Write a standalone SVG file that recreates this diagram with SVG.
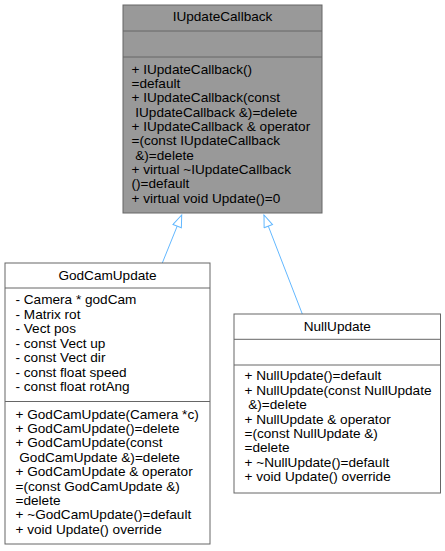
<svg xmlns="http://www.w3.org/2000/svg" width="445" height="551" viewBox="0 0 445 551">
<style>
text{font-family:"Liberation Sans",Arial,sans-serif;font-size:13.6px;fill:#000;white-space:pre}
.c{text-anchor:middle}
.box{stroke:#666666;stroke-width:1}
.sep{stroke:#666666;stroke-width:1;fill:none}
.edge{stroke:#63b8ff;stroke-width:1;fill:none}
</style>
<defs>
<marker id="tri" markerUnits="userSpaceOnUse" markerWidth="16" markerHeight="12" refX="13" refY="5" orient="auto">
<path d="M1,0.5 L13,5 L1,9.5 Z" fill="#ffffff" stroke="#63b8ff" stroke-width="1"/>
</marker>
</defs>
<rect width="445" height="551" fill="#ffffff"/>
<g id="connectors">
<path class="edge" d="M162.3,263 L181.7,215" marker-end="url(#tri)"/>
<path class="edge" d="M302.3,314 L264,215" marker-end="url(#tri)"/>
</g>
<g id="IUpdateCallback">
<rect class="box" x="123" y="5" width="199" height="208" fill="#999999"/>
<line class="sep" x1="123" y1="31" x2="322" y2="31"/>
<line class="sep" x1="123" y1="57" x2="322" y2="57"/>
<text class="c" x="222.5" y="21">IUpdateCallback</text>
<text x="131.5" y="73.5">+ IUpdateCallback()</text>
<text x="131.5" y="87.8">=default</text>
<text x="131.5" y="102.2">+ IUpdateCallback(const</text>
<text x="131.5" y="116.5" xml:space="preserve"> IUpdateCallback &amp;)=delete</text>
<text x="131.5" y="130.9">+ IUpdateCallback &amp; operator</text>
<text x="131.5" y="145.2">=(const IUpdateCallback</text>
<text x="131.5" y="159.6" xml:space="preserve"> &amp;)=delete</text>
<text x="131.5" y="173.9">+ virtual ~IUpdateCallback</text>
<text x="131.5" y="188.3">()=default</text>
<text x="131.5" y="202.6">+ virtual void Update()=0</text>
</g>
<g id="GodCamUpdate">
<rect class="box" x="5" y="263" width="205" height="281" fill="#ffffff"/>
<line class="sep" x1="5" y1="288" x2="210" y2="288"/>
<line class="sep" x1="5" y1="401.5" x2="210" y2="401.5"/>
<text class="c" x="107.5" y="279.5">GodCamUpdate</text>
<text x="15.5" y="304.3">- Camera * godCam</text>
<text x="15.5" y="318.8">- Matrix rot</text>
<text x="15.5" y="333.3">- Vect pos</text>
<text x="15.5" y="347.8">- const Vect up</text>
<text x="15.5" y="362.3">- const Vect dir</text>
<text x="15.5" y="376.8">- const float speed</text>
<text x="15.5" y="391.3">- const float rotAng</text>
<text x="15.5" y="418.5">+ GodCamUpdate(Camera *c)</text>
<text x="15.5" y="432.9">+ GodCamUpdate()=delete</text>
<text x="15.5" y="447.3">+ GodCamUpdate(const</text>
<text x="15.5" y="461.7" xml:space="preserve"> GodCamUpdate &amp;)=delete</text>
<text x="15.5" y="476.1">+ GodCamUpdate &amp; operator</text>
<text x="15.5" y="490.5">=(const GodCamUpdate &amp;)</text>
<text x="15.5" y="504.9">=delete</text>
<text x="15.5" y="519.3">+ ~GodCamUpdate()=default</text>
<text x="15.5" y="533.7">+ void Update() override</text>
</g>
<g id="NullUpdate">
<rect class="box" x="234" y="314" width="206.5" height="179" fill="#ffffff"/>
<line class="sep" x1="234" y1="339.3" x2="440.5" y2="339.3"/>
<line class="sep" x1="234" y1="365" x2="440.5" y2="365"/>
<text class="c" x="337.3" y="331">NullUpdate</text>
<text x="244.5" y="380.3">+ NullUpdate()=default</text>
<text x="244.5" y="394.7">+ NullUpdate(const NullUpdate</text>
<text x="244.5" y="409.1" xml:space="preserve"> &amp;)=delete</text>
<text x="244.5" y="423.5">+ NullUpdate &amp; operator</text>
<text x="244.5" y="437.9">=(const NullUpdate &amp;)</text>
<text x="244.5" y="452.3">=delete</text>
<text x="244.5" y="466.7">+ ~NullUpdate()=default</text>
<text x="244.5" y="481.1">+ void Update() override</text>
</g>
</svg>
